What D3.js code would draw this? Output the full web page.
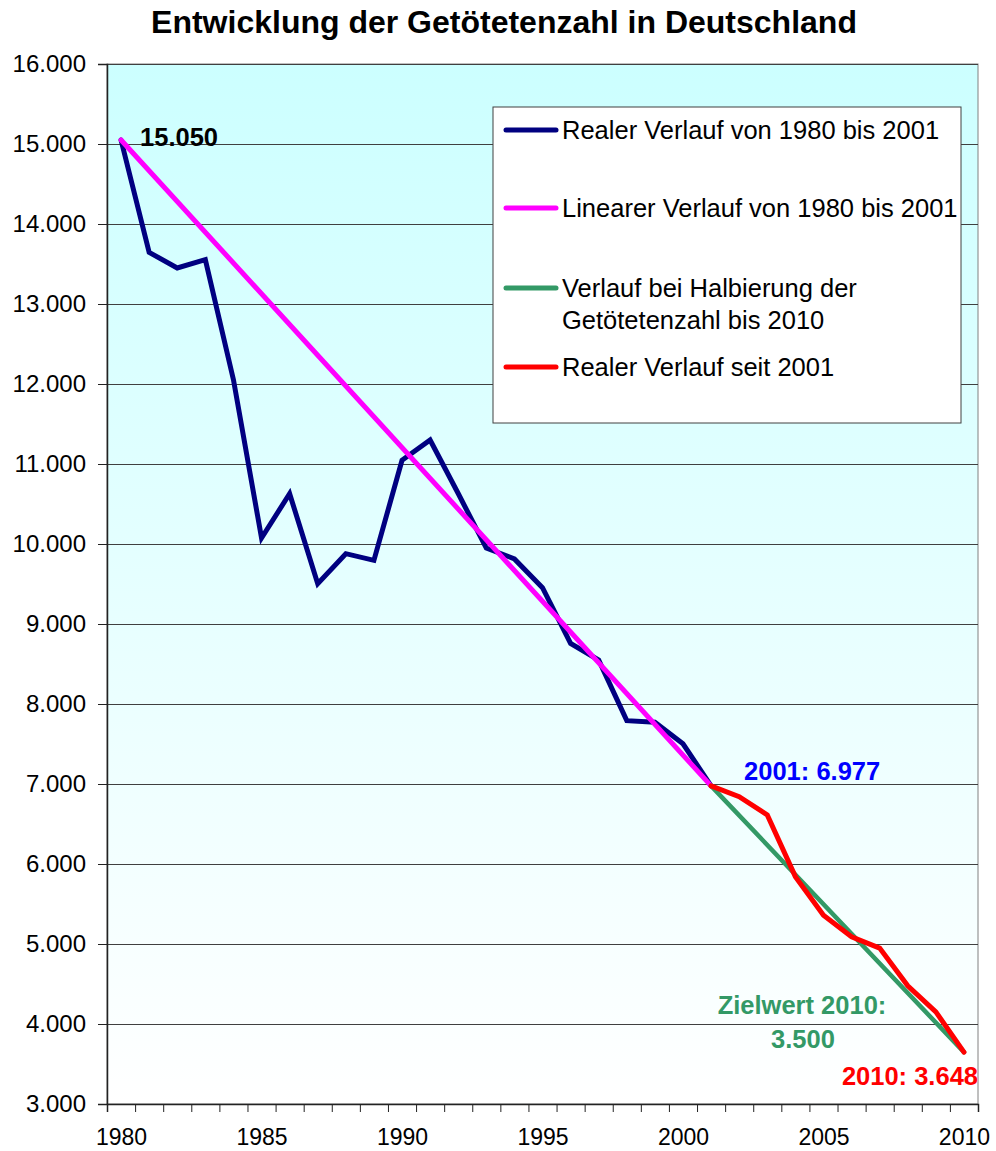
<!DOCTYPE html>
<html>
<head>
<meta charset="utf-8">
<script src="https://cdn.jsdelivr.net/npm/d3@7"></script>
<style>
  body { margin: 0; background: #fff; }
  svg { display: block; font-family: "Liberation Sans", Arial, sans-serif; }
</style>
</head>
<body>
<svg id="chart" width="996" height="1151"></svg>
<script>
// years on the category axis
const years = d3.range(1980, 2011);
const yearLabels = [1980, 1985, 1990, 1995, 2000, 2005, 2010];
const yTicks = [3000, 4000, 5000, 6000, 7000, 8000, 9000, 10000, 11000, 12000, 13000, 14000, 15000, 16000];

// Realer Verlauf 1980 - 2001
const realYears = [1980, 1981, 1982, 1983, 1984, 1985, 1986, 1987, 1988, 1989, 1990,
                   1991, 1992, 1993, 1994, 1995, 1996, 1997, 1998, 1999, 2000, 2001];
const realValues = [15050, 13646, 13450, 13554, 12054, 10075, 10629, 9504, 9879, 9796, 11046,
                    11300, 10631, 9949, 9814, 9454, 8758, 8549, 7792, 7772, 7503, 6977];

// Linearer Verlauf 1980 - 2001
const linYears = [1980, 2001];
const linValues = [15050, 6977];

// Halbierung bis 2010
const halfYears = [2001, 2010];
const halfValues = [6977, 3648];

// Realer Verlauf seit 2001
const sinceYears = [2001, 2002, 2003, 2004, 2005, 2006, 2007, 2008, 2009, 2010];
const sinceValues = [6977, 6842, 6613, 5842, 5361, 5091, 4949, 4477, 4152, 3648];

const legendLabels = [
  ['Realer Verlauf von 1980 bis 2001'],
  ['Linearer Verlauf von 1980 bis 2001'],
  ['Verlauf bei Halbierung der', 'Getötetenzahl bis 2010'],
  ['Realer Verlauf seit 2001']
];

const plot = { left: 107, right: 978, top: 64, bottom: 1104 };
const svg = d3.select('#chart');

const de = d3.formatLocale({ decimal: ',', thousands: '.', grouping: [3], currency: ['', ' €'] });
const fmt = de.format(',d');

// category axis: points sit in the middle of each year slot
const x = d3.scaleLinear()
  .domain([years[0] - 0.5, years[years.length - 1] + 0.5])
  .range([plot.left, plot.right]);

const y = d3.scaleLinear()
  .domain([3000, 16000])
  .range([plot.bottom, plot.top]);

// background gradient
const grad = svg.append('defs').append('linearGradient')
  .attr('id', 'bg').attr('x1', 0).attr('y1', 0).attr('x2', 0).attr('y2', 1);
grad.append('stop').attr('offset', '0%').attr('stop-color', '#ccffff');
grad.append('stop').attr('offset', '100%').attr('stop-color', '#ffffff');

svg.append('rect')
  .attr('x', plot.left).attr('y', plot.top)
  .attr('width', plot.right - plot.left).attr('height', plot.bottom - plot.top)
  .attr('fill', 'url(#bg)')
  .attr('stroke', '#808080').attr('stroke-width', 1);

// gridlines
svg.append('g')
  .attr('transform', `translate(${plot.left},0)`)
  .call(d3.axisLeft(y).tickValues(yTicks).tickSize(-(plot.right - plot.left)).tickFormat(''))
  .call(g => g.select('.domain').remove())
  .call(g => g.selectAll('line').attr('stroke', '#404040').attr('stroke-width', 1));

// y axis
svg.append('g')
  .attr('transform', `translate(${plot.left},0)`)
  .call(d3.axisLeft(y).tickValues(yTicks).tickSize(9).tickPadding(12).tickFormat(fmt))
  .call(g => g.select('.domain').attr('stroke', '#222').attr('stroke-width', 1.5))
  .call(g => g.selectAll('line').attr('stroke', '#222'))
  .call(g => g.selectAll('text')
    .attr('font-size', 24)
    .attr('font-family', '"Liberation Sans", Arial, sans-serif')
    .attr('fill', '#000'));

// x axis ticks at the slot borders
const borders = d3.range(years[0] - 0.5, years[years.length - 1] + 1, 1);
svg.append('g')
  .attr('transform', `translate(0,${plot.bottom})`)
  .call(d3.axisBottom(x).tickValues(borders).tickSize(8).tickFormat(''))
  .call(g => g.select('.domain').attr('stroke', '#222').attr('stroke-width', 1.5))
  .call(g => g.selectAll('line').attr('stroke', '#222'));

// x labels
svg.append('g')
  .attr('transform', `translate(0,${plot.bottom})`)
  .call(d3.axisBottom(x).tickValues(yearLabels).tickSize(0).tickPadding(25).tickFormat(d3.format('d')))
  .call(g => g.select('.domain').remove())
  .call(g => g.selectAll('text')
    .attr('font-size', 23)
    .attr('font-family', '"Liberation Sans", Arial, sans-serif')
    .attr('fill', '#000'));

const line = d3.line().x(d => x(d[0])).y(d => y(d[1]));
const zip = (a, b) => a.map((v, i) => [v, b[i]]);

const series = [
  { data: zip(realYears, realValues), color: '#000080', width: 5 },
  { data: zip(linYears, linValues), color: '#ff00ff', width: 5 },
  { data: zip(halfYears, halfValues), color: '#339966', width: 4.5 },
  { data: zip(sinceYears, sinceValues), color: '#ff0000', width: 5 }
];

svg.append('g').selectAll('path')
  .data(series)
  .enter().append('path')
  .attr('d', d => line(d.data))
  .attr('fill', 'none')
  .attr('stroke', d => d.color)
  .attr('stroke-width', d => d.width)
  .attr('stroke-linejoin', 'miter')
  .attr('stroke-linecap', 'round');

// legend
const legend = svg.append('g').attr('transform', 'translate(493,107)');
legend.append('rect')
  .attr('width', 468).attr('height', 316)
  .attr('fill', '#fff').attr('stroke', '#404040').attr('stroke-width', 1);

const rowY = [23, 101, 181, 260];
legendLabels.forEach((lines, i) => {
  const row = legend.append('g').attr('transform', `translate(0,${rowY[i]})`);
  row.append('line')
    .attr('x1', 13).attr('x2', 63).attr('y1', 0).attr('y2', 0)
    .attr('stroke', series[i].color).attr('stroke-width', 5).attr('stroke-linecap', 'round');
  lines.forEach((t, j) => {
    row.append('text')
      .attr('x', 69).attr('y', 9 + j * 32)
      .attr('font-size', 25.5)
      .attr('fill', '#000')
      .text(t);
  });
});

// value labels
const labels = [
  { text: '15.050', x: x(1980) + 19, y: y(15050) + 6, color: '#000', anchor: 'start' },
  { text: '2001: 6.977', x: x(2001) + 33, y: y(6977) - 6, color: '#0000ff', anchor: 'start' },
  { text: 'Zielwert 2010:', x: 802, y: 1014, color: '#339966', anchor: 'middle' },
  { text: '3.500', x: 803, y: 1048, color: '#339966', anchor: 'middle' },
  { text: '2010: 3.648', x: plot.right, y: 1085, color: '#ff0000', anchor: 'end' }
];
svg.append('g').selectAll('text')
  .data(labels)
  .enter().append('text')
  .attr('x', d => d.x).attr('y', d => d.y)
  .attr('text-anchor', d => d.anchor)
  .attr('font-size', 25.5)
  .attr('font-weight', 'bold')
  .attr('fill', d => d.color)
  .text(d => d.text);

// title
svg.append('text')
  .attr('x', 504).attr('y', 33)
  .attr('text-anchor', 'middle')
  .attr('font-size', 32)
  .attr('font-weight', 'bold')
  .text('Entwicklung der Getötetenzahl in Deutschland');
</script>
</body>
</html>
